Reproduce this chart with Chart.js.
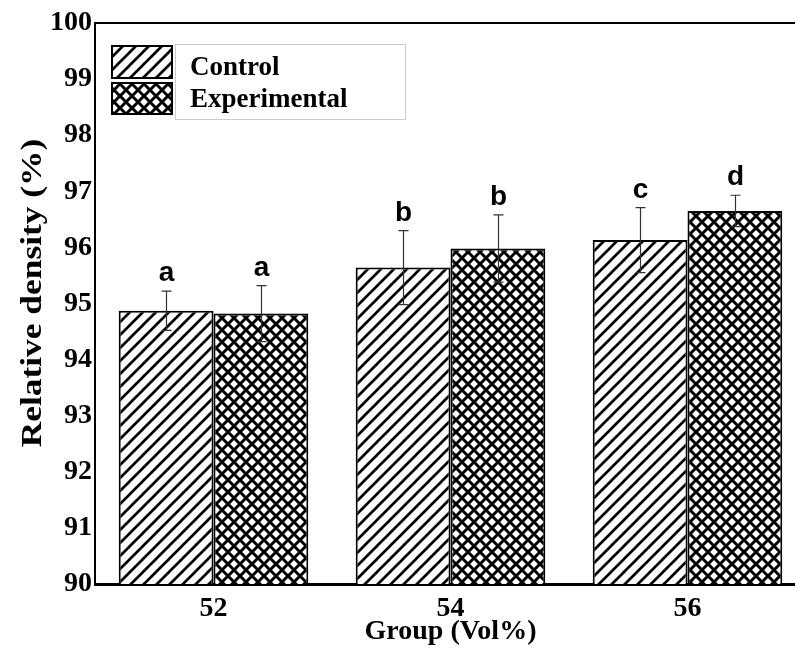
<!DOCTYPE html>
<html>
<head>
<meta charset="utf-8">
<script src="https://cdn.jsdelivr.net/npm/chart.js@4.4.1/dist/chart.umd.min.js"></script>
<style>
  html, body { margin: 0; padding: 0; background: #fff; overflow: hidden; }
  canvas { display: block; }
</style>
</head>
<body>
<canvas id="c" width="806" height="653"></canvas>
<script>
const categories = ['52', '54', '56'];
const seriesNames = ['Control', 'Experimental'];
const controlValues = [94.87, 95.64, 96.13];
const controlErrors = [0.35, 0.66, 0.58];
const experimentalValues = [94.82, 95.98, 96.65];
const experimentalErrors = [0.50, 0.60, 0.28];
const controlLetters = ['a', 'b', 'c'];
const experimentalLetters = ['a', 'b', 'd'];
const yMin = 90, yMax = 100, yStep = 1;
const xTitle = 'Group (Vol%)';
const yTitle = 'Relative density (%)';

function makePattern(cross, size, lw) {
  const t = document.createElement('canvas');
  t.width = size; t.height = size;
  const g = t.getContext('2d');
  g.fillStyle = '#fff';
  g.fillRect(0, 0, size, size);
  g.strokeStyle = '#000';
  g.lineWidth = lw;
  g.lineCap = 'square';
  for (let k = -1; k <= 1; k++) {
    const x0 = k * size;
    g.beginPath();
    g.moveTo(x0 - 1, size + 1);
    g.lineTo(x0 + size + 1, -1);
    g.stroke();
    if (cross) {
      g.beginPath();
      g.moveTo(x0 - 1, -1);
      g.lineTo(x0 + size + 1, size + 1);
      g.stroke();
    }
  }
  const ctx = document.getElementById('c').getContext('2d');
  return ctx.createPattern(t, 'repeat');
}
const diagPattern = makePattern(false, 13, 2.7);
const crossPattern = makePattern(true, 12, 3.0);
const fills = [diagPattern, crossPattern];

const errorSets = [controlErrors, experimentalErrors];
const letterSets = [controlLetters, experimentalLetters];
const serif = '"Liberation Serif", "Times New Roman", serif';

const errorPlugin = {
  id: 'errs',
  afterDatasetsDraw(chart) {
    const ctx = chart.ctx;
    const ys = chart.scales.y;
    ctx.save();
    chart.data.datasets.forEach((ds, i) => {
      const meta = chart.getDatasetMeta(i);
      meta.data.forEach((el, j) => {
        const v = ds.data[j], e = errorSets[i][j];
        const top = ys.getPixelForValue(v + e);
        const bot = ys.getPixelForValue(v - e);
        const x = Math.round(el.x) + 0.5;
        ctx.strokeStyle = '#333';
        ctx.lineWidth = 1.2;
        ctx.beginPath();
        ctx.moveTo(x, top); ctx.lineTo(x, bot);
        ctx.moveTo(x - 5, top); ctx.lineTo(x + 5, top);
        ctx.moveTo(x - 5, bot); ctx.lineTo(x + 5, bot);
        ctx.stroke();
        ctx.fillStyle = '#000';
        ctx.font = 'bold 28px "Liberation Sans", Arial, sans-serif';
        ctx.textAlign = 'center';
        ctx.textBaseline = 'alphabetic';
        ctx.fillText(letterSets[i][j], x, top - 10);
      });
    });
    ctx.restore();
  },
  afterDraw(chart) {
    const ctx = chart.ctx;
    const a = chart.chartArea;
    ctx.save();
    // top frame line
    ctx.strokeStyle = '#000';
    ctx.lineWidth = 2;
    ctx.beginPath();
    ctx.moveTo(a.left - 1, a.top);
    ctx.lineTo(chart.width, a.top);
    ctx.stroke();
    // y-axis title
    ctx.save();
    ctx.translate(34, 293);
    ctx.rotate(-Math.PI / 2);
    ctx.scale(1.22, 1);
    ctx.fillStyle = '#000';
    ctx.font = 'bold 29px ' + serif;
    ctx.textAlign = 'center';
    ctx.textBaseline = 'middle';
    ctx.fillText(yTitle, 0, 0);
    ctx.restore();
    // legend
    const sw = [[111, 45, 62, 34], [111, 82, 62, 33]];
    ctx.strokeStyle = '#ccc';
    ctx.lineWidth = 1;
    ctx.strokeRect(175.5, 44.5, 230, 75);
    sw.forEach((r, i) => {
      ctx.fillStyle = fills[i];
      ctx.fillRect(r[0], r[1], r[2], r[3]);
      ctx.strokeStyle = '#000';
      ctx.lineWidth = 2;
      ctx.strokeRect(r[0] + 1, r[1] + 1, r[2] - 2, r[3] - 2);
    });
    ctx.fillStyle = '#000';
    ctx.font = 'bold 27px ' + serif;
    ctx.textAlign = 'left';
    ctx.textBaseline = 'alphabetic';
    ctx.fillText(seriesNames[0], 190, 75);
    ctx.fillText(seriesNames[1], 190, 107);
    ctx.restore();
  }
};

new Chart(document.getElementById('c'), {
  type: 'bar',
  data: {
    labels: categories,
    datasets: [
      { label: seriesNames[0], data: controlValues, backgroundColor: diagPattern,
        borderColor: '#000', borderWidth: 2, categoryPercentage: 0.8, barPercentage: 1.0 },
      { label: seriesNames[1], data: experimentalValues, backgroundColor: crossPattern,
        borderColor: '#000', borderWidth: 2, categoryPercentage: 0.8, barPercentage: 1.0 }
    ]
  },
  options: {
    responsive: false,
    animation: false,
    layout: { padding: { left: 0, top: 23, right: 0, bottom: 0 } },
    plugins: { legend: { display: false }, tooltip: { enabled: false } },
    scales: {
      x: {
        grid: { display: false, drawTicks: false },
        border: { display: true, color: '#000', width: 3 },
        ticks: { color: '#000', padding: 8, font: { family: serif, weight: 'bold', size: 28 } },
        title: { display: true, text: xTitle, color: '#000', padding: { top: 0, bottom: 4 },
          font: { family: serif, weight: 'bold', size: 28, lineHeight: 1.2 } },
        afterFit(s) { s.height = 69; }
      },
      y: {
        min: yMin, max: yMax,
        grid: { display: false, drawTicks: false },
        border: { display: true, color: '#000', width: 2 },
        ticks: { stepSize: yStep, color: '#000', padding: 3,
          font: { family: serif, weight: 'bold', size: 28 } },
        title: { display: false },
        afterFit(s) { s.width = 95; }
      }
    }
  },
  plugins: [errorPlugin]
});
</script>
</body>
</html>
